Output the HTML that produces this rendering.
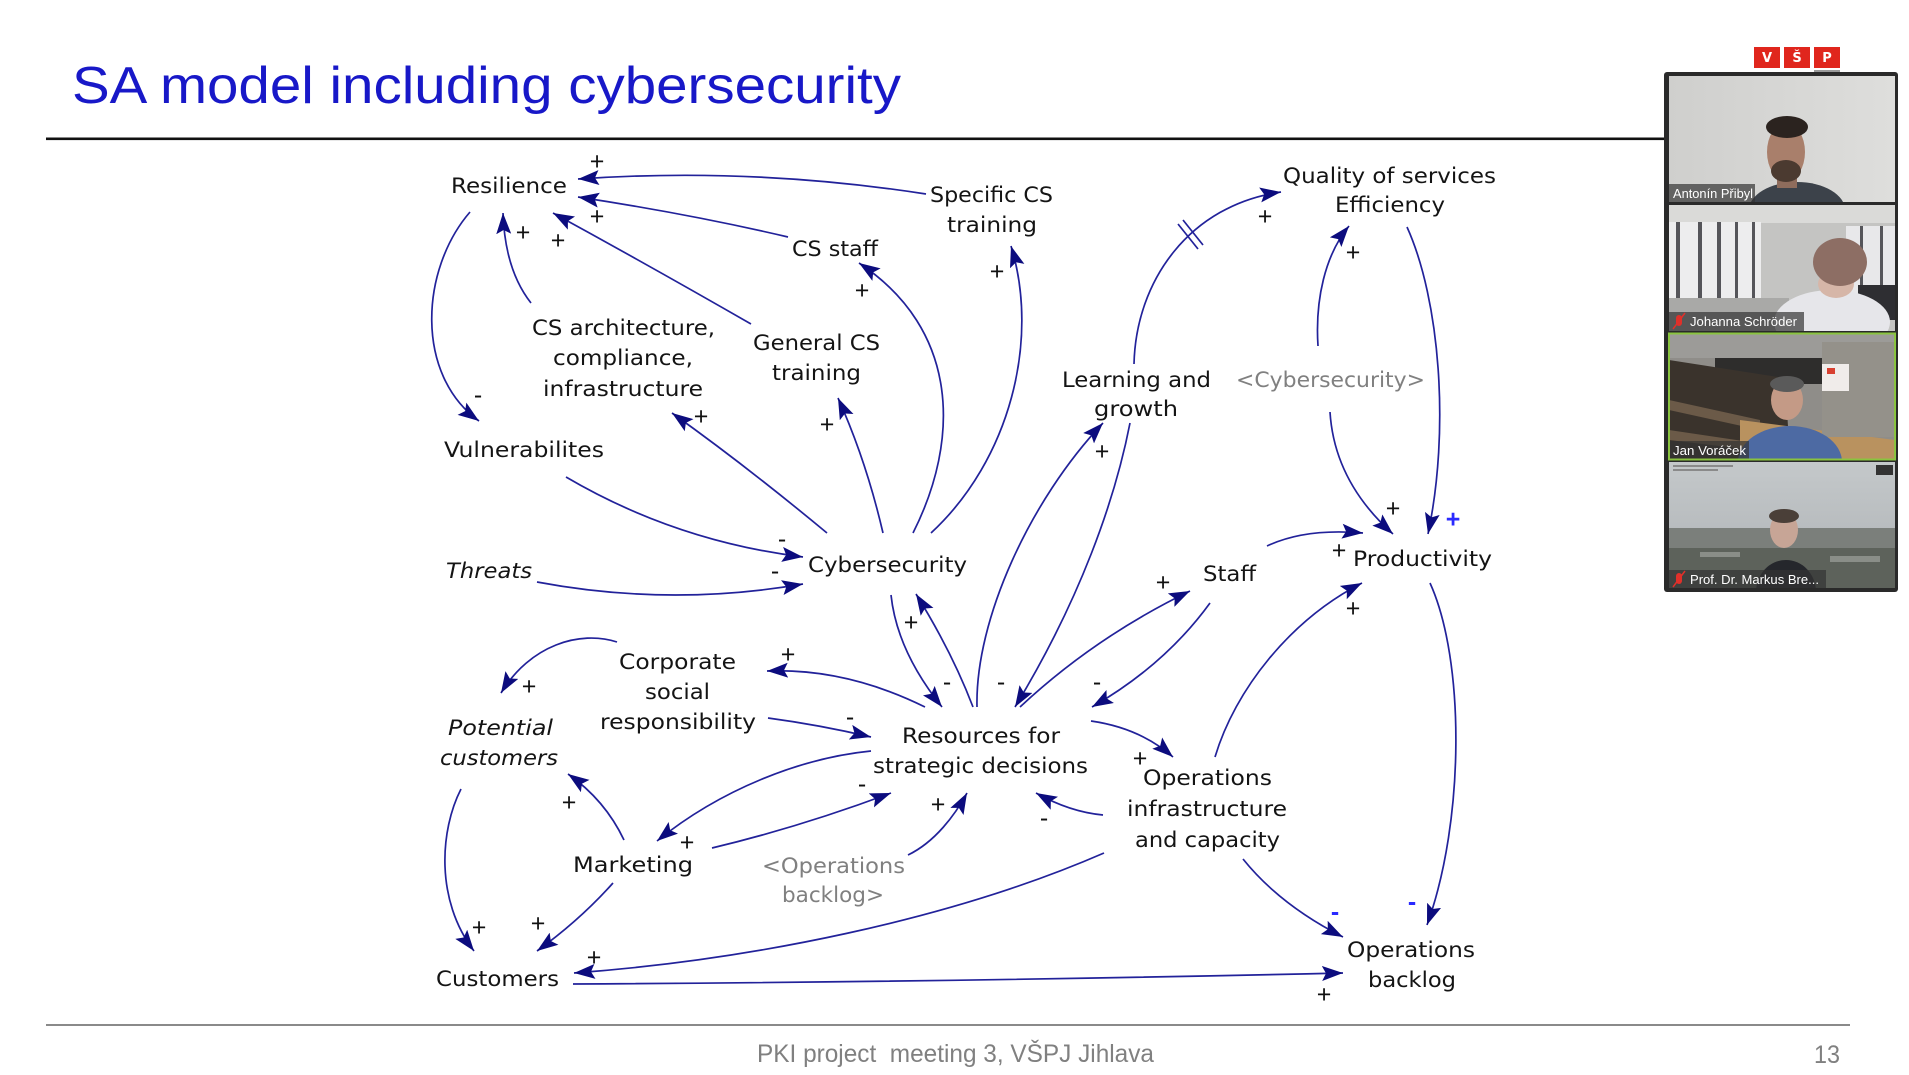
<!DOCTYPE html>
<html>
<head>
<meta charset="utf-8">
<style>
html,body{margin:0;padding:0;background:#fff;overflow:hidden;}
svg{display:block;}
.n{font-family:"DejaVu Sans","Liberation Sans",sans-serif;font-size:21px;fill:#141414;}
.g{fill:#808080;}
.i{font-style:italic;}
.s{font-family:"Liberation Sans",sans-serif;font-size:25px;fill:#111;text-anchor:middle;}
.b{fill:#2a2aff;font-weight:bold;}
.l{fill:none;stroke:#22229a;stroke-width:1.7;}
.nm{font-family:"Liberation Sans","DejaVu Sans",sans-serif;font-size:12.5px;fill:#fff;}
</style>
</head>
<body>
<svg width="1909" height="1075" viewBox="0 0 1909 1075" xmlns="http://www.w3.org/2000/svg">
<defs>
<marker id="a" markerUnits="userSpaceOnUse" markerWidth="26" markerHeight="18" refX="21" refY="7.5" orient="auto">
<path d="M0,0 L21,7.5 L0,15 L4,7.5 z" fill="#0c0c7e"/>
</marker>
<clipPath id="t1"><rect x="1669" y="76" width="226" height="126"/></clipPath>
<clipPath id="t2"><rect x="1669" y="205" width="226" height="126"/></clipPath>
<clipPath id="t3"><rect x="1669" y="334" width="226" height="125"/></clipPath>
<clipPath id="t4"><rect x="1669" y="462" width="226" height="126"/></clipPath>
<linearGradient id="g1" x1="0" x2="1" y1="0" y2="0"><stop offset="0" stop-color="#cfcfcd"/><stop offset="1" stop-color="#dededc"/></linearGradient>
<linearGradient id="g4" x1="0" x2="0" y1="0" y2="1"><stop offset="0" stop-color="#c4c8ca"/><stop offset="1" stop-color="#aeb2b5"/></linearGradient>
</defs>
<rect width="1909" height="1075" fill="#fff"/>

<!-- Title -->
<text x="72" y="103" font-family="Liberation Sans, sans-serif" font-size="52" fill="#1818c8" textLength="829" lengthAdjust="spacingAndGlyphs">SA model including cybersecurity</text>
<rect x="46" y="137.5" width="1625" height="2.6" fill="#111"/>

<!-- Footer -->
<rect x="46" y="1024" width="1804" height="2" fill="#8a8a8a"/>
<text x="757" y="1062" font-family="Liberation Sans, sans-serif" font-size="25" fill="#808080" textLength="397" lengthAdjust="spacingAndGlyphs">PKI project &#160;meeting 3, VŠPJ Jihlava</text>
<text x="1814" y="1063" font-family="Liberation Sans, sans-serif" font-size="25" fill="#808080" textLength="26" lengthAdjust="spacingAndGlyphs">13</text>

<!-- Links -->
<g class="l" marker-end="url(#a)">
<path d="M926,194 Q752,167 578,179"/>
<path d="M788,237 Q690,214 578,197"/>
<path d="M751,324 Q650,266 553,213"/>
<path d="M531,303 Q505,270 503,213"/>
<path d="M470,212 C420,270 415,375 479,421"/>
<path d="M566,477 Q675,541 803,557"/>
<path d="M537,582 Q670,607 803,584"/>
<path d="M827,533 Q745,465 672,413"/>
<path d="M883,533 Q866,460 838,398"/>
<path d="M913,533 C960,440 960,330 859,263"/>
<path d="M931,533 C1010,460 1040,340 1011,246"/>
<path d="M891,595 Q897,651 942,707"/>
<path d="M973,707 Q952,652 916,594"/>
<path d="M977,707 C975,620 1030,500 1103,423"/>
<path d="M1130,423 C1115,500 1080,600 1015,707"/>
<path d="M1134,364 C1136,280 1190,205 1281,192"/>
<path d="M1318,346 C1315,300 1325,255 1349,226"/>
<path d="M1330,412 C1333,460 1355,500 1393,534"/>
<path d="M1407,227 C1440,300 1450,430 1428,534"/>
<path d="M1267,546 Q1305,528 1363,533"/>
<path d="M1020,707 Q1095,637 1190,591"/>
<path d="M1210,603 Q1165,665 1092,707"/>
<path d="M925,707 Q846,668 767,671"/>
<path d="M768,718 Q820,725 871,737"/>
<path d="M617,642 C580,630 530,645 501,693"/>
<path d="M461,789 C440,830 435,900 474,951"/>
<path d="M624,840 Q605,800 568,774"/>
<path d="M613,883 Q580,920 537,951"/>
<path d="M871,751 C800,758 720,790 657,841"/>
<path d="M712,848 Q800,827 891,793"/>
<path d="M908,855 C935,842 955,815 967,793"/>
<path d="M1103,815 Q1070,812 1036,793"/>
<path d="M1091,721 Q1140,728 1173,757"/>
<path d="M1215,757 C1235,690 1290,620 1362,583"/>
<path d="M1430,583 C1465,660 1465,820 1427,925"/>
<path d="M1243,859 Q1280,905 1343,937"/>
<path d="M1104,853 C950,920 750,960 574,973"/>
<path d="M573,984 Q950,982 1343,973"/>
</g>
<!-- delay marks -->
<line x1="1183" y1="220" x2="1203" y2="245" stroke="#22229a" stroke-width="1.7"/>
<line x1="1178" y1="224" x2="1198" y2="249" stroke="#22229a" stroke-width="1.7"/>

<!-- Node labels -->
<g class="n">
<text x="451" y="193" textLength="116" lengthAdjust="spacingAndGlyphs">Resilience</text>
<text x="930" y="202" textLength="123" lengthAdjust="spacingAndGlyphs">Specific CS</text>
<text x="947" y="232" textLength="90" lengthAdjust="spacingAndGlyphs">training</text>
<text x="792" y="256" textLength="86" lengthAdjust="spacingAndGlyphs">CS staff</text>
<text x="753" y="350" textLength="127" lengthAdjust="spacingAndGlyphs">General CS</text>
<text x="772" y="380" textLength="89" lengthAdjust="spacingAndGlyphs">training</text>
<text x="532" y="335" textLength="183" lengthAdjust="spacingAndGlyphs">CS architecture,</text>
<text x="553" y="365" textLength="140" lengthAdjust="spacingAndGlyphs">compliance,</text>
<text x="543" y="396" textLength="160" lengthAdjust="spacingAndGlyphs">infrastructure</text>
<text x="444" y="457" textLength="160" lengthAdjust="spacingAndGlyphs">Vulnerabilites</text>
<text class="i" x="446" y="578" textLength="86" lengthAdjust="spacingAndGlyphs">Threats</text>
<text x="808" y="572" textLength="159" lengthAdjust="spacingAndGlyphs">Cybersecurity</text>
<text x="1062" y="387" textLength="149" lengthAdjust="spacingAndGlyphs">Learning and</text>
<text x="1094" y="416" textLength="84" lengthAdjust="spacingAndGlyphs">growth</text>
<text class="g" x="1236" y="387" textLength="189" lengthAdjust="spacingAndGlyphs">&lt;Cybersecurity&gt;</text>
<text x="1283" y="183" textLength="213" lengthAdjust="spacingAndGlyphs">Quality of services</text>
<text x="1335" y="212" textLength="110" lengthAdjust="spacingAndGlyphs">Efficiency</text>
<text x="1353" y="566" textLength="139" lengthAdjust="spacingAndGlyphs">Productivity</text>
<text x="1203" y="581" textLength="53" lengthAdjust="spacingAndGlyphs">Staff</text>
<text x="619" y="669" textLength="117" lengthAdjust="spacingAndGlyphs">Corporate</text>
<text x="645" y="699" textLength="65" lengthAdjust="spacingAndGlyphs">social</text>
<text x="600" y="729" textLength="156" lengthAdjust="spacingAndGlyphs">responsibility</text>
<text class="i" x="448" y="735" textLength="105" lengthAdjust="spacingAndGlyphs">Potential</text>
<text class="i" x="440" y="765" textLength="118" lengthAdjust="spacingAndGlyphs">customers</text>
<text x="902" y="743" textLength="158" lengthAdjust="spacingAndGlyphs">Resources for</text>
<text x="873" y="773" textLength="215" lengthAdjust="spacingAndGlyphs">strategic decisions</text>
<text x="573" y="872" textLength="120" lengthAdjust="spacingAndGlyphs">Marketing</text>
<text class="g" x="762" y="873" textLength="143" lengthAdjust="spacingAndGlyphs">&lt;Operations</text>
<text class="g" x="782" y="902" textLength="102" lengthAdjust="spacingAndGlyphs">backlog&gt;</text>
<text x="1143" y="785" textLength="129" lengthAdjust="spacingAndGlyphs">Operations</text>
<text x="1127" y="816" textLength="160" lengthAdjust="spacingAndGlyphs">infrastructure</text>
<text x="1135" y="847" textLength="145" lengthAdjust="spacingAndGlyphs">and capacity</text>
<text x="436" y="986" textLength="123" lengthAdjust="spacingAndGlyphs">Customers</text>
<text x="1347" y="957" textLength="128" lengthAdjust="spacingAndGlyphs">Operations</text>
<text x="1368" y="987" textLength="88" lengthAdjust="spacingAndGlyphs">backlog</text>
</g>

<!-- Polarity signs -->
<g class="s" transform="translate(0,1.2)">
<text x="597" y="168.5">+</text>
<text x="597" y="223.5">+</text>
<text x="523" y="239.5">+</text>
<text x="558" y="247.5">+</text>
<text x="701" y="423.5">+</text>
<text x="827" y="431.5">+</text>
<text x="862" y="297.5">+</text>
<text x="997" y="278.5">+</text>
<text x="1102" y="458.5">+</text>
<text x="1265" y="223.5">+</text>
<text x="1353" y="259.5">+</text>
<text x="1393" y="515.5">+</text>
<text class="b" x="1453" y="526.5">+</text>
<text x="1339" y="557.5">+</text>
<text x="1163" y="589.5">+</text>
<text x="911" y="629.5">+</text>
<text x="788" y="661.5">+</text>
<text x="529" y="693.5">+</text>
<text x="569" y="809.5">+</text>
<text x="687" y="849.5">+</text>
<text x="938" y="811.5">+</text>
<text x="1140" y="765.5">+</text>
<text x="1353" y="615.5">+</text>
<text x="479" y="934.5">+</text>
<text x="538" y="930.5">+</text>
<text x="594" y="964.5">+</text>
<text x="1324" y="1001.5">+</text>
<text x="478" y="402">-</text>
<text x="782" y="546">-</text>
<text x="775" y="578">-</text>
<text x="947" y="689">-</text>
<text x="1001" y="689">-</text>
<text x="1097" y="689">-</text>
<text x="850" y="724">-</text>
<text x="862" y="791">-</text>
<text x="1044" y="825">-</text>
<text class="b" x="1335" y="919">-</text>
<text class="b" x="1412" y="909">-</text>
</g>

<!-- VSP logo -->
<rect x="1754" y="47" width="26" height="21" fill="#e0261d"/>
<rect x="1784" y="47" width="26" height="21" fill="#e0261d"/>
<rect x="1814" y="47" width="26" height="21" fill="#e0261d"/>
<g font-family="DejaVu Sans, sans-serif" font-weight="bold" font-size="13" fill="#fff" text-anchor="middle">
<text x="1767" y="62">V</text><text x="1797" y="62">Š</text><text x="1827" y="62">P</text>
</g>
<rect x="1814" y="70" width="26" height="2" fill="#9a9a9a"/>

<!-- Video panel -->
<rect x="1664" y="72" width="234" height="520" rx="3" fill="#2a2a2a"/>

<!-- Tile 1 -->
<g clip-path="url(#t1)">
<rect x="1669" y="76" width="226" height="126" fill="url(#g1)"/>
<ellipse cx="1797" cy="210" rx="48" ry="28" fill="#3c424a"/>
<rect x="1777" y="170" width="20" height="18" fill="#8e6c5c"/>
<ellipse cx="1786" cy="152" rx="19" ry="29" fill="#a97f6b"/>
<ellipse cx="1787" cy="127" rx="21" ry="11" fill="#2b231f"/>
<ellipse cx="1786" cy="171" rx="15" ry="11" fill="#4b3a30"/>
<rect x="1669" y="184" width="86" height="18" fill="#333" fill-opacity="0.7"/>
<text class="nm" x="1673" y="198" textLength="80" lengthAdjust="spacingAndGlyphs">Antonín Přibyl</text>
</g>

<!-- Tile 2 -->
<g clip-path="url(#t2)">
<rect x="1669" y="205" width="226" height="126" fill="#c4c4c2"/>
<rect x="1669" y="205" width="226" height="18" fill="#dadad8"/>
<rect x="1669" y="222" width="92" height="80" fill="#ededee"/>
<rect x="1676" y="222" width="4" height="80" fill="#55555a"/>
<rect x="1698" y="222" width="4" height="80" fill="#55555a"/>
<rect x="1717" y="222" width="4" height="80" fill="#55555a"/>
<rect x="1735" y="222" width="3" height="80" fill="#55555a"/>
<rect x="1752" y="222" width="3" height="80" fill="#55555a"/>
<rect x="1846" y="226" width="49" height="74" fill="#e8e8ea"/>
<rect x="1860" y="226" width="3" height="74" fill="#55555a"/>
<rect x="1880" y="226" width="3" height="74" fill="#55555a"/>
<rect x="1669" y="298" width="120" height="33" fill="#a9a9a7"/>
<rect x="1858" y="285" width="37" height="35" fill="#2e2e32"/>
<ellipse cx="1832" cy="322" rx="58" ry="32" fill="#e6e6ea"/>
<ellipse cx="1836" cy="284" rx="18" ry="14" fill="#d6b6a8"/>
<ellipse cx="1840" cy="262" rx="27" ry="24" fill="#8d6e64"/>
<rect x="1669" y="312" width="135" height="19" fill="#333" fill-opacity="0.7"/>
<rect x="1676" y="315" width="6" height="11" rx="3" fill="#e0302a"/>
<line x1="1673" y1="329" x2="1685" y2="313" stroke="#e0302a" stroke-width="1.5"/>
<text class="nm" x="1690" y="326" textLength="107" lengthAdjust="spacingAndGlyphs">Johanna Schröder</text>
</g>

<!-- Tile 3 -->
<g clip-path="url(#t3)">
<rect x="1669" y="334" width="226" height="125" fill="#8f8d89"/>
<rect x="1669" y="334" width="226" height="24" fill="#9c9b98"/>
<rect x="1715" y="358" width="110" height="26" fill="#2e2d2c"/>
<polygon points="1669,360 1785,378 1790,459 1669,459" fill="#3a332c"/>
<polygon points="1669,400 1760,420 1760,430 1669,410" fill="#6b5a48"/>
<polygon points="1669,430 1770,445 1770,452 1669,440" fill="#6b5a48"/>
<polygon points="1740,420 1895,440 1895,459 1740,459" fill="#b9925f"/>
<rect x="1822" y="342" width="73" height="95" fill="#94918a"/>
<rect x="1822" y="364" width="27" height="27" fill="#f0ecea"/>
<rect x="1827" y="368" width="8" height="6" fill="#d84030"/>
<ellipse cx="1790" cy="462" rx="52" ry="36" fill="#4d6aa3"/>
<ellipse cx="1787" cy="400" rx="16" ry="20" fill="#c49a86"/>
<ellipse cx="1787" cy="384" rx="17" ry="8" fill="#5a5a5a"/>
<rect x="1669" y="441" width="80" height="18" fill="#333" fill-opacity="0.7"/>
<text class="nm" x="1673" y="455" textLength="73" lengthAdjust="spacingAndGlyphs">Jan Voráček</text>
</g>
<rect x="1669" y="333.5" width="226" height="126" fill="none" stroke="#8ac43f" stroke-width="2"/>

<!-- Tile 4 -->
<g clip-path="url(#t4)">
<rect x="1669" y="462" width="226" height="126" fill="url(#g4)"/>
<rect x="1669" y="528" width="226" height="22" fill="#7b7f7b"/>
<rect x="1669" y="548" width="226" height="40" fill="#5d625b"/>
<rect x="1700" y="552" width="40" height="5" fill="#8a8e88"/>
<rect x="1830" y="556" width="50" height="6" fill="#8a8e88"/>
<rect x="1673" y="465" width="60" height="2" fill="#8a8a8a"/>
<rect x="1673" y="469" width="45" height="2" fill="#8a8a8a"/>
<rect x="1876" y="465" width="17" height="10" fill="#333"/>
<ellipse cx="1786" cy="592" rx="30" ry="32" fill="#25272c"/>
<ellipse cx="1784" cy="530" rx="14" ry="18" fill="#c7a596"/>
<ellipse cx="1784" cy="516" rx="15" ry="7" fill="#4a3f38"/>
<rect x="1669" y="570" width="157" height="18" fill="#333" fill-opacity="0.7"/>
<rect x="1676" y="573" width="6" height="11" rx="3" fill="#e0302a"/>
<line x1="1673" y1="587" x2="1685" y2="571" stroke="#e0302a" stroke-width="1.5"/>
<text class="nm" x="1690" y="584" textLength="129" lengthAdjust="spacingAndGlyphs">Prof. Dr. Markus Bre...</text>
</g>
</svg>
</body>
</html>
